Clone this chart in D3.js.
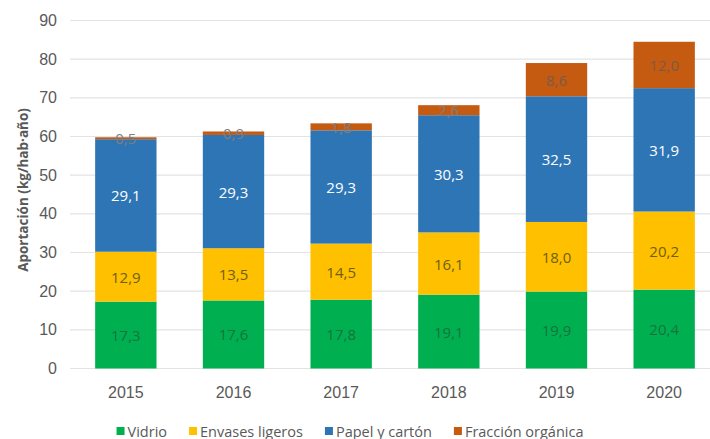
<!DOCTYPE html>
<html>
<head>
<meta charset="utf-8">
<script src="https://cdn.jsdelivr.net/npm/d3@7"></script>
<style>
  body { margin: 0; background: #fff; }
  svg { display: block; font-family: "Open Sans", sans-serif; }
  .grid line { stroke: #e3e3e3; stroke-width: 1.2; }
  .tick text { fill: #595959; font-size: 16px; }
  .seg-label { font-size: 15px; text-anchor: middle; dominant-baseline: central; }
  .legend text { fill: #595959; font-size: 14.5px; }
</style>
</head>
<body>
<svg id="chart" width="710" height="439"></svg>
<script>
// years on the x axis
var years = ['2015', '2016', '2017', '2018', '2019', '2020'];
// stacked series, bottom to top
var vidrio = [17.3, 17.6, 17.8, 19.1, 19.9, 20.4];
var envases = [12.9, 13.5, 14.5, 16.1, 18.0, 20.2];
var papel = [29.1, 29.3, 29.3, 30.3, 32.5, 31.9];
var organica = [0.5, 0.9, 1.8, 2.6, 8.6, 12.0];
var seriesNames = ['Vidrio', 'Envases ligeros', 'Papel y cartón', 'Fracción orgánica'];
var yTicks = [0, 10, 20, 30, 40, 50, 60, 70, 80, 90];

var colors = ['#00b050', '#ffc000', '#2e75b6', '#c55a11'];
var labelColors = ['#15743b', '#6f5f12', '#ffffff', '#7d5a48'];

var svg = d3.select('#chart');

var x = d3.scaleBand().domain(years).range([72, 718])
    .paddingInner(0.43).paddingOuter(0.215);
var y = d3.scaleLinear().domain([0, 90]).range([368.5, 20.5]);

// gridlines
svg.append('g').attr('class', 'grid')
    .selectAll('line').data(yTicks).enter().append('line')
    .attr('x1', 70).attr('x2', 710)
    .attr('y1', function(d) { return y(d); })
    .attr('y2', function(d) { return y(d); });

// y axis labels
var yAxis = svg.append('g').attr('transform', 'translate(70,0)')
    .call(d3.axisLeft(y).tickValues(yTicks).tickSize(0).tickPadding(13));
yAxis.select('.domain').remove();

// x axis labels
var xAxis = svg.append('g').attr('transform', 'translate(0,368.5)')
    .call(d3.axisBottom(x).tickSize(0).tickPadding(18));
xAxis.select('.domain').remove();

// y title
svg.append('text')
    .attr('transform', 'translate(23,190) rotate(-90)')
    .attr('text-anchor', 'middle')
    .attr('dominant-baseline', 'central')
    .style('font-size', '13.5px').style('font-weight', 'bold').style('fill', '#595959')
    .text('Aportación (kg/hab·año)');

// stacked data
var rows = years.map(function(yr, i) {
    return { year: yr, s0: vidrio[i], s1: envases[i], s2: papel[i], s3: organica[i] };
});
var stack = d3.stack().keys(['s0', 's1', 's2', 's3'])(rows);

var layers = svg.append('g').selectAll('g').data(stack).enter().append('g')
    .attr('fill', function(d, i) { return colors[i]; });

layers.selectAll('rect').data(function(d) { return d; }).enter().append('rect')
    .attr('x', function(d) { return x(d.data.year); })
    .attr('width', x.bandwidth())
    .attr('y', function(d) { return y(d[1]); })
    .attr('height', function(d) { return y(d[0]) - y(d[1]); });

// segment value labels
svg.append('g').selectAll('g').data(stack).enter().append('g')
    .each(function(layer, li) {
        d3.select(this).selectAll('text').data(layer).enter().append('text')
            .attr('class', 'seg-label')
            .attr('x', function(d) { return x(d.data.year) + x.bandwidth() / 2; })
            .attr('y', function(d) { return y((d[0] + d[1]) / 2); })
            .style('fill', function(d) {
                return (li == 3 && d[1] - d[0] < 5) ? '#7f7f7f' : labelColors[li];
            })
            .text(function(d) { return d3.format('.1f')(d[1] - d[0]).replace('.', ','); });
    });

// legend
var legend = svg.append('g').attr('class', 'legend');
var lx = 0;
seriesNames.forEach(function(name, i) {
    var item = legend.append('g').attr('transform', 'translate(' + lx + ',0)');
    item.append('rect').attr('x', 0).attr('y', -4).attr('width', 8).attr('height', 8)
        .attr('fill', colors[i]);
    var t = item.append('text').attr('x', 11).attr('y', 0)
        .attr('dominant-baseline', 'central').text(name);
    lx += 11 + t.node().getComputedTextLength() + 22;
});
var legendWidth = lx - 22;
legend.attr('transform', 'translate(' + (350 - legendWidth / 2) + ',431)');
</script>
</body>
</html>
